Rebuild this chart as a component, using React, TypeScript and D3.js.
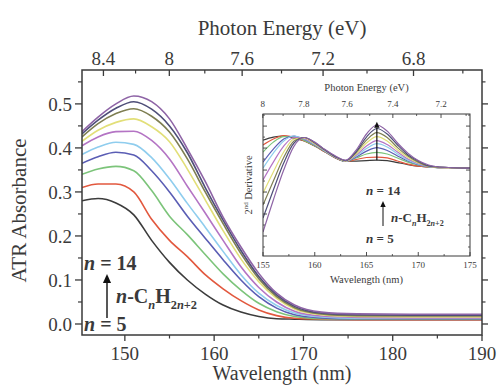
import * as d3 from 'd3'

// ---- main panel: ATR absorbance of n-alkanes, n = 5..14 ----
const wavelengthNm = [145.2, 147, 149, 151, 153, 155, 157, 159, 161, 163, 165, 167, 169, 172, 176, 182, 190]
const absN5 = [0.28, 0.285, 0.275, 0.248, 0.19, 0.14, 0.1, 0.068, 0.043, 0.027, 0.017, 0.012, 0.011, 0.01, 0.01, 0.01, 0.01]
const absN6 = [0.31, 0.318, 0.318, 0.3, 0.238, 0.19, 0.153, 0.112, 0.08, 0.053, 0.032, 0.019, 0.013, 0.011, 0.01, 0.01, 0.01]
const absN7 = [0.34, 0.352, 0.358, 0.348, 0.303, 0.245, 0.203, 0.158, 0.114, 0.077, 0.047, 0.028, 0.017, 0.012, 0.011, 0.011, 0.011]
const absN8 = [0.365, 0.38, 0.39, 0.384, 0.348, 0.3, 0.245, 0.195, 0.146, 0.1, 0.062, 0.036, 0.021, 0.014, 0.012, 0.012, 0.012]
const absN9 = [0.385, 0.402, 0.413, 0.408, 0.378, 0.33, 0.274, 0.22, 0.165, 0.112, 0.07, 0.042, 0.025, 0.016, 0.013, 0.013, 0.013]
const absN10 = [0.405, 0.425, 0.437, 0.438, 0.417, 0.375, 0.313, 0.252, 0.19, 0.13, 0.083, 0.05, 0.029, 0.018, 0.015, 0.014, 0.014]
const absN11 = [0.415, 0.44, 0.458, 0.466, 0.448, 0.414, 0.352, 0.282, 0.212, 0.148, 0.096, 0.058, 0.034, 0.021, 0.017, 0.016, 0.016]
const absN12 = [0.425, 0.455, 0.478, 0.489, 0.472, 0.436, 0.375, 0.3, 0.228, 0.16, 0.103, 0.062, 0.037, 0.023, 0.019, 0.018, 0.018]
const absN13 = [0.432, 0.463, 0.49, 0.505, 0.488, 0.45, 0.389, 0.31, 0.236, 0.167, 0.108, 0.066, 0.04, 0.025, 0.021, 0.02, 0.02]
const absN14 = [0.437, 0.47, 0.5, 0.518, 0.505, 0.466, 0.398, 0.324, 0.243, 0.175, 0.115, 0.07, 0.043, 0.027, 0.023, 0.022, 0.022]
const absorbance = [absN5, absN6, absN7, absN8, absN9, absN10, absN11, absN12, absN13, absN14]

// Origin-like palette, n = 5 .. 14
const lineColors = ['#3c3c3c', '#e2583e', '#7cc47a', '#5a5db4', '#8fcdee', '#b474c4', '#e2df78', '#7e7e52', '#4e4e78', '#8e64a6']

const mainXTicks = [150, 160, 170, 180, 190]
const mainXMinor = [155, 165, 175, 185]
const mainYTicks = [0, 0.1, 0.2, 0.3, 0.4, 0.5]
const mainYMinor = [0.05, 0.15, 0.25, 0.35, 0.45, 0.55]
const energyTicks = [8.4, 8, 7.6, 7.2, 6.8]
const energyMinor = [8.2, 7.8, 7.4, 7.0, 6.6]

// ---- inset: 2nd derivative (arb. units) ----
const insetWavelength = [155, 156, 157, 158, 159, 160, 161, 162, 163, 164, 165, 166, 167, 168, 169, 170, 171, 172, 175]
const d2N5 = [13.6, 15.0, 15.5, 14.5, 13.2, 10.9, 8.2, 5.5, 3.9, 4.1, 4.3, 4.5, 4.3, 3.4, 2.5, 1.8, 1.4, 1.1, 0.9]
const d2N6 = [11.4, 14.1, 15.7, 15.0, 13.2, 10.9, 8.2, 5.5, 3.9, 4.8, 5.7, 5.9, 5.5, 4.1, 2.7, 1.8, 1.4, 1.1, 0.9]
const d2N7 = [8.2, 12.7, 15.2, 15.2, 13.4, 11.1, 8.4, 5.7, 3.9, 5.5, 7.3, 8.0, 7.3, 5.5, 3.6, 2.3, 1.4, 1.1, 0.9]
const d2N8 = [3.6, 9.5, 14.1, 15.5, 13.9, 11.4, 8.6, 5.7, 3.9, 5.9, 8.6, 10.2, 8.9, 6.4, 4.1, 2.5, 1.6, 1.1, 0.9]
const d2N9 = [0.9, 7.7, 13.2, 15.5, 14.1, 11.6, 8.6, 5.9, 4.1, 6.4, 9.8, 12.0, 10.5, 7.3, 4.5, 2.7, 1.6, 1.1, 0.9]
const d2N10 = [-4.5, 3.6, 10.9, 14.8, 14.3, 11.8, 8.9, 5.9, 4.1, 6.8, 10.9, 13.4, 11.6, 8.2, 5.0, 3.0, 1.6, 1.1, 0.9]
const d2N11 = [-10.5, -0.9, 8.2, 14.1, 14.5, 12.0, 8.9, 5.9, 4.1, 7.3, 12.3, 15.2, 13.2, 9.1, 5.7, 3.2, 1.8, 1.1, 0.9]
const d2N12 = [-15.9, -5.0, 5.7, 13.2, 14.8, 12.3, 9.1, 6.1, 4.3, 8.0, 13.6, 17.0, 14.8, 10.2, 6.4, 3.6, 1.8, 1.4, 0.9]
const d2N13 = [-21.8, -9.1, 3.2, 12.3, 14.8, 12.5, 9.1, 6.1, 4.3, 8.4, 15.0, 18.9, 16.4, 11.4, 7.0, 4.1, 2.0, 1.4, 0.9]
const d2N14 = [-28.2, -13.6, 0, 10.9, 14.8, 12.7, 9.3, 6.4, 4.5, 9.1, 16.4, 20.5, 17.7, 12.3, 7.7, 4.3, 2.3, 1.4, 0.9]
const secondDeriv = [d2N5, d2N6, d2N7, d2N8, d2N9, d2N10, d2N11, d2N12, d2N13, d2N14]

const insetXTicks = [155, 160, 165, 170, 175]
const insetXMinor = [157.5, 162.5, 167.5, 172.5]
const insetYTicks = [-30, -20, -10, 0, 10, 20]
const insetYMinor = [-35, -25, -15, -5, 5, 15, 25]
const insetEnergyTicks = [8, 7.8, 7.6, 7.4, 7.2]
const insetEnergyMinor = [7.9, 7.7, 7.5, 7.3, 7.1]
const insetArrowNm = 166
const insetArrowRange = [4.5, 22]

const HC = 1239.84 // eV nm
const ink = '#3a3a3a'
const serif = '"Liberation Serif", "DejaVu Serif", serif'

function Formula({ x, y, size }: { x: number; y: number; size: number }) {
  const sub = size * 0.62
  return (
    <text x={x} y={y} fontSize={size} fill={ink} fontWeight="bold">
      <tspan fontStyle="italic">n</tspan>
      <tspan>-C</tspan>
      <tspan fontSize={sub} fontStyle="italic" dy={size * 0.28}>n</tspan>
      <tspan dy={-size * 0.28}>H</tspan>
      <tspan fontSize={sub} dy={size * 0.28}>2<tspan fontStyle="italic">n</tspan>+2</tspan>
    </text>
  )
}

function NLabel({ x, y, size, n }: { x: number; y: number; size: number; n: number }) {
  return (
    <text x={x} y={y} fontSize={size} fill={ink} fontWeight="bold">
      <tspan fontStyle="italic">n</tspan> = {n}
    </text>
  )
}

function Arrow({ x, y1, y2, head, w }: { x: number; y1: number; y2: number; head: number; w: number }) {
  return (
    <g>
      <line x1={x} x2={x} y1={y1} y2={y2 + head} stroke="#111" strokeWidth={w} />
      <path d={`M${x},${y2} L${x - head * 0.45},${y2 + head} L${x + head * 0.45},${y2 + head} Z`} fill="#111" />
    </g>
  )
}

export default function App() {
  // main scales
  const x = d3.scaleLinear().domain([145.2, 190]).range([82, 482])
  const y = d3.scaleLinear().domain([-0.025, 0.577]).range([335, 70])
  const [x0, x1] = x.range()
  const [yb, yt] = y.range()
  const mainLine = d3.line<number>()
    .x((_, i) => x(wavelengthNm[i]))
    .y(d => y(d))
    .curve(d3.curveMonotoneX)

  // inset scales
  const ix = d3.scaleLinear().domain([155, 175]).range([263, 470])
  const iy = d3.scaleLinear().domain([-39.1, 25.5]).range([256, 114])
  const [ix0, ix1] = ix.range()
  const [iyb, iyt] = iy.range()
  const insetLine = d3.line<number>()
    .x((_, i) => ix(insetWavelength[i]))
    .y(d => iy(d))
    .curve(d3.curveMonotoneX)

  const fmtY = d3.format('.1f')

  return (
    <svg width={500} height={390} style={{ position: 'absolute', left: 0, top: 0, background: '#fff', fontFamily: serif }}>
      <defs>
        <clipPath id="mainClip"><rect x={x0} y={yt} width={x1 - x0} height={yb - yt} /></clipPath>
        <clipPath id="insetClip"><rect x={ix0} y={iyt} width={ix1 - ix0} height={iyb - iyt} /></clipPath>
      </defs>

      {/* main curves */}
      <g clipPath="url(#mainClip)">
        {absorbance.map((s, k) => (
          <path key={k} d={mainLine(s) ?? ''} fill="none" stroke={lineColors[k]} strokeWidth={1.6} />
        ))}
      </g>

      {/* main frame */}
      <rect x={x0} y={yt} width={x1 - x0} height={yb - yt} fill="none" stroke={ink} strokeWidth={1.5} />

      {/* bottom axis */}
      {mainXTicks.map(t => (
        <g key={t}>
          <line x1={x(t)} x2={x(t)} y1={yb} y2={yb + 6} stroke={ink} strokeWidth={1.3} />
          <text x={x(t)} y={360} fontSize={19} textAnchor="middle" fill={ink}>{t}</text>
        </g>
      ))}
      {mainXMinor.map(t => (
        <line key={t} x1={x(t)} x2={x(t)} y1={yb} y2={yb + 3.5} stroke={ink} strokeWidth={1.2} />
      ))}
      <text x={(x0 + x1) / 2} y={380} fontSize={20} textAnchor="middle" fill={ink}>Wavelength (nm)</text>

      {/* top axis (photon energy) */}
      {energyTicks.map(e => (
        <g key={e}>
          <line x1={x(HC / e)} x2={x(HC / e)} y1={yt} y2={yt + 6} stroke={ink} strokeWidth={1.3} />
          <text x={x(HC / e)} y={65} fontSize={19} textAnchor="middle" fill={ink}>{String(e)}</text>
        </g>
      ))}
      {energyMinor.map(e => (
        <line key={e} x1={x(HC / e)} x2={x(HC / e)} y1={yt} y2={yt + 3.5} stroke={ink} strokeWidth={1.2} />
      ))}
      <text x={(x0 + x1) / 2} y={35} fontSize={21} textAnchor="middle" fill={ink}>Photon Energy (eV)</text>

      {/* left / right axes */}
      {mainYTicks.map(t => (
        <g key={t}>
          <line x1={x0 - 7} x2={x0} y1={y(t)} y2={y(t)} stroke={ink} strokeWidth={1.3} />
          <line x1={x1} x2={x1 + 6} y1={y(t)} y2={y(t)} stroke={ink} strokeWidth={1.3} />
          <text x={x0 - 10} y={y(t)} dy="0.35em" fontSize={19} textAnchor="end" fill={ink}>{fmtY(t)}</text>
        </g>
      ))}
      {mainYMinor.map(t => (
        <g key={t}>
          <line x1={x0 - 4} x2={x0} y1={y(t)} y2={y(t)} stroke={ink} strokeWidth={1.2} />
          <line x1={x1} x2={x1 + 3.5} y1={y(t)} y2={y(t)} stroke={ink} strokeWidth={1.2} />
        </g>
      ))}
      <text transform={`translate(26,${(yt + yb) / 2 + 8}) rotate(-90)`} fontSize={21} textAnchor="middle" fill={ink}>ATR Absorbance</text>

      {/* main annotations */}
      <NLabel x={84} y={270} size={20} n={14} />
      <Arrow x={107} y1={318} y2={274} head={9} w={1.4} />
      <Formula x={116} y={303} size={20} />
      <NLabel x={84} y={331} size={20} n={5} />

      {/* ---- inset ---- */}
      <rect x={ix0} y={iyt} width={ix1 - ix0} height={iyb - iyt} fill="#fff" />
      <g clipPath="url(#insetClip)">
        {secondDeriv.map((s, k) => (
          <path key={k} d={insetLine(s) ?? ''} fill="none" stroke={lineColors[k]} strokeWidth={1.2} />
        ))}
      </g>
      <rect x={ix0} y={iyt} width={ix1 - ix0} height={iyb - iyt} fill="none" stroke={ink} strokeWidth={1} />

      {insetXTicks.map(t => (
        <g key={t}>
          <line x1={ix(t)} x2={ix(t)} y1={iyb} y2={iyb - 4} stroke={ink} strokeWidth={0.9} />
          <text x={ix(t)} y={268} fontSize={9} textAnchor="middle" fill={ink}>{t}</text>
        </g>
      ))}
      {insetXMinor.map(t => (
        <line key={t} x1={ix(t)} x2={ix(t)} y1={iyb} y2={iyb - 2} stroke={ink} strokeWidth={0.8} />
      ))}
      <text x={(ix0 + ix1) / 2} y={283} fontSize={10.5} textAnchor="middle" fill={ink}>Wavelength (nm)</text>

      {insetEnergyTicks.map(e => (
        <g key={e}>
          <line x1={ix(HC / e)} x2={ix(HC / e)} y1={iyt} y2={iyt + 4} stroke={ink} strokeWidth={0.9} />
          <text x={ix(HC / e)} y={107} fontSize={9} textAnchor="middle" fill={ink}>{String(e)}</text>
        </g>
      ))}
      {insetEnergyMinor.map(e => (
        <line key={e} x1={ix(HC / e)} x2={ix(HC / e)} y1={iyt} y2={iyt + 2} stroke={ink} strokeWidth={0.8} />
      ))}
      <text x={(ix0 + ix1) / 2} y={91} fontSize={10.5} textAnchor="middle" fill={ink}>Photon Energy (eV)</text>

      {insetYTicks.map(t => (
        <g key={t}>
          <line x1={ix0} x2={ix0 + 4} y1={iy(t)} y2={iy(t)} stroke={ink} strokeWidth={0.9} />
          <line x1={ix1 - 4} x2={ix1} y1={iy(t)} y2={iy(t)} stroke={ink} strokeWidth={0.9} />
        </g>
      ))}
      {insetYMinor.map(t => (
        <g key={t}>
          <line x1={ix0} x2={ix0 + 2} y1={iy(t)} y2={iy(t)} stroke={ink} strokeWidth={0.8} />
          <line x1={ix1 - 2} x2={ix1} y1={iy(t)} y2={iy(t)} stroke={ink} strokeWidth={0.8} />
        </g>
      ))}
      <text transform={`translate(252,${(iyt + iyb) / 2}) rotate(-90)`} fontSize={10.5} textAnchor="middle" fill={ink}>
        2<tspan fontSize={7} dy={-4}>nd</tspan><tspan dy={4}> Derivative</tspan>
      </text>

      {/* inset arrow through the 166 nm band */}
      <Arrow x={ix(insetArrowNm)} y1={iy(insetArrowRange[0])} y2={iy(insetArrowRange[1])} head={6} w={1.2} />

      <NLabel x={366} y={195} size={13} n={14} />
      <Arrow x={383} y1={226} y2={201} head={6} w={1} />
      <Formula x={391} y={222} size={13} />
      <NLabel x={366} y={243} size={13} n={5} />
    </svg>
  )
}
